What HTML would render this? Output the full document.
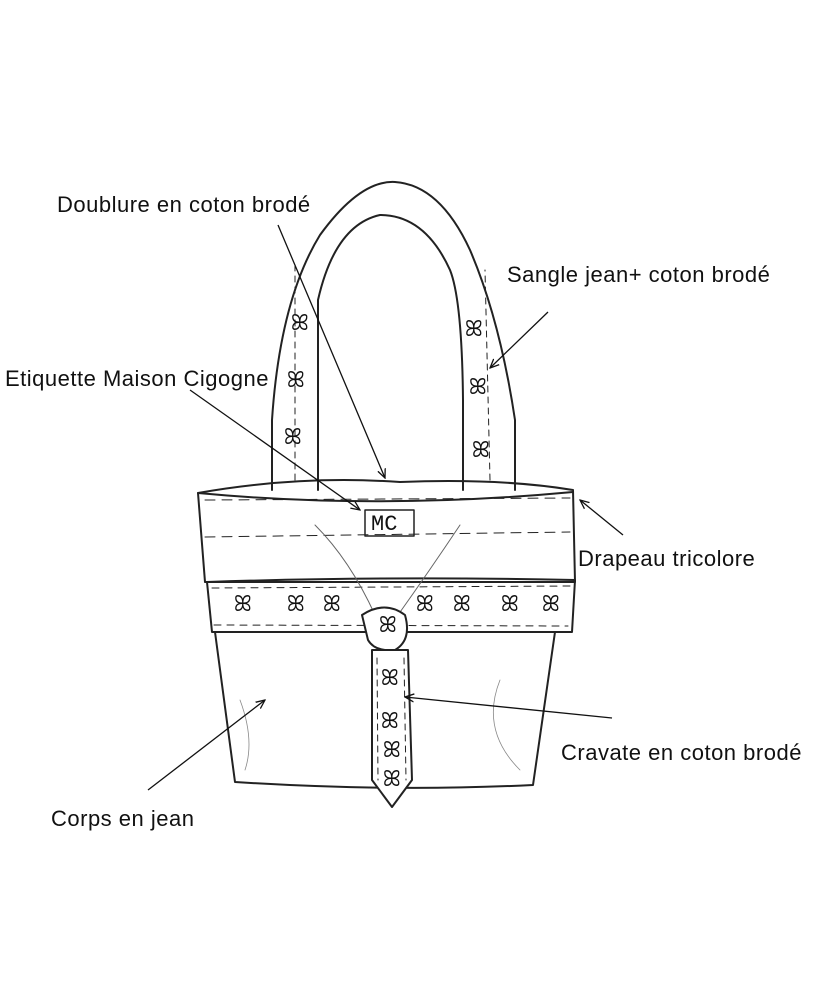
<!DOCTYPE html>
<html><head><meta charset="utf-8"><style>
html,body{margin:0;padding:0;background:#fff;width:820px;height:1000px;overflow:hidden}
svg{display:block}
text{font-family:"Liberation Sans",sans-serif;font-size:22px;letter-spacing:0.5px;fill:#111}
</style></head><body>
<svg width="820" height="1000" viewBox="0 0 820 1000">
<defs><marker id="a" markerWidth="10" markerHeight="10" refX="9" refY="5" orient="auto" markerUnits="userSpaceOnUse"><path d="M0,1 L9,5 L0,9" fill="none" stroke="#111" stroke-width="1.3"/></marker></defs>
<g fill="none" stroke="#222" stroke-width="2" stroke-linecap="round" stroke-linejoin="round">
<path d="M272,490 L272,420 Q280,300 320,235 Q360,180 395,182 Q440,185 470,250 Q500,320 515,420 L515,490"/>
<path d="M318,490 L318,300 Q335,225 380,215 Q425,215 450,270 Q462,300 463,400 L463,490"/>
<path d="M295,480 L295,260" stroke-dasharray="6,5" stroke-width="1"/>
<path d="M490,480 L485,270" stroke-dasharray="6,5" stroke-width="1"/>
<path d="M198,493 Q300,475 400,482 Q500,478 573,490 L575,582 L205,582 Z"/>
<path d="M198,493 Q380,510 573,492"/>
<path d="M205,500 L570,498" stroke-dasharray="10,7" stroke-width="1"/>
<path d="M205,537 L570,532" stroke-dasharray="10,7" stroke-width="1"/>
<rect x="365" y="510" width="49" height="26" stroke-width="1.5"/>
<path d="M207,582 Q380,576 575,580 L572,632 L212,632 Z"/>
<path d="M212,588 L570,586" stroke-dasharray="7,6" stroke-width="1"/>
<path d="M214,625 L568,626" stroke-dasharray="7,6" stroke-width="1"/>
<path d="M215,632 L235,782 Q390,792 533,785 L555,632"/>
<path d="M240,700 Q255,740 245,770" stroke-width="0.8" stroke="#888"/>
<path d="M500,680 Q480,730 520,770" stroke-width="0.8" stroke="#888"/>
<path d="M315,525 Q350,560 375,615 M460,525 Q430,570 398,615" stroke-width="1" stroke="#666"/>
<path d="M362,615 Q385,600 405,615 Q412,640 395,650 Q375,652 368,640 Z" fill="#fff"/>
<path d="M372,650 L408,650 L412,780 L392,807 L372,780 Z" fill="#fff"/>
<path d="M377,658 L378,780 M404,658 L406,780" stroke-dasharray="6,5" stroke-width="1"/>
</g>
<g font-size="16" text-anchor="middle" fill="#222" style="font-family:'DejaVu Sans',sans-serif;letter-spacing:0">
<text x="243" y="611">ꕤ</text><text x="296" y="611">ꕤ</text><text x="332" y="611">ꕤ</text><text x="425" y="611">ꕤ</text><text x="462" y="611">ꕤ</text><text x="510" y="611">ꕤ</text><text x="551" y="611">ꕤ</text>
<text x="300" y="330">ꕤ</text><text x="296" y="387">ꕤ</text><text x="293" y="444">ꕤ</text>
<text x="474" y="336">ꕤ</text><text x="478" y="394">ꕤ</text><text x="481" y="457">ꕤ</text>
<text x="390" y="685">ꕤ</text><text x="390" y="728">ꕤ</text><text x="392" y="757">ꕤ</text><text x="392" y="786">ꕤ</text><text x="388" y="632">ꕤ</text>
</g>
<text x="371" y="530" font-size="15" style="font-family:'Liberation Mono',monospace;letter-spacing:0">MC</text>
<g stroke="#111" stroke-width="1.3" fill="none" marker-end="url(#a)">
<line x1="278" y1="225" x2="385" y2="478"/>
<line x1="548" y1="312" x2="490" y2="368"/>
<line x1="190" y1="390" x2="360" y2="510"/>
<line x1="623" y1="535" x2="580" y2="500"/>
<line x1="612" y1="718" x2="405" y2="697"/>
<line x1="148" y1="790" x2="265" y2="700"/>
</g>
<text x="57" y="212">Doublure en coton brodé</text>
<text x="507" y="282">Sangle jean+ coton brodé</text>
<text x="5" y="386">Etiquette Maison Cigogne</text>
<text x="578" y="566">Drapeau tricolore</text>
<text x="561" y="760">Cravate en coton brodé</text>
<text x="51" y="826">Corps en jean</text>
</svg>
</body></html>
